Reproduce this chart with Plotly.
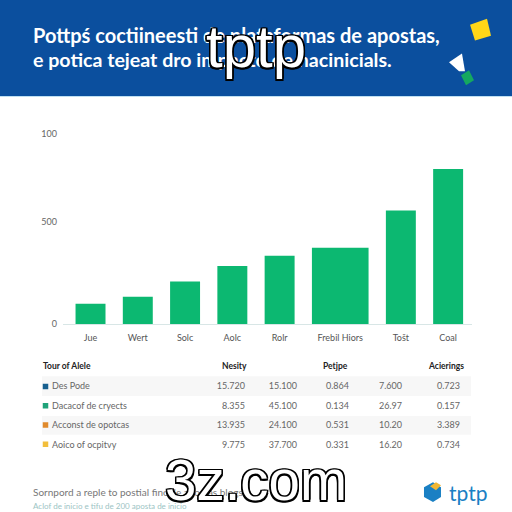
"""Bar chart with a summary table under a blue banner."""
import plotly.graph_objects as go

SIZE = 512
FONT = 'Lato'

# chart data
categories = ['Jue', 'Wert', 'Solc', 'Aolc', 'Rolr', 'Frebil Hiors', 'Tošt', 'Coal']
values = [104, 139, 216, 294, 346, 386, 574, 784]
y_tick_vals = [0, 517, 962]
y_tick_text = ['0', '500', '100']

# table data
table_title = 'Tour of Alele'
col_titles = ['Nesity', 'Petjpe', 'Acierings']
row_names = ['Des Pode', 'Dacacof de cryects', 'Acconst de opotcas', 'Aoico of ocpitvy']
col_nesity = ['15.720', '8.355', '13.935', '9.775']
col_second = ['15.100', '45.100', '24.100', '37.700']
col_petjpe = ['0.864', '0.134', '0.531', '0.331']
col_fourth = ['7.600', '26.97', '10.20', '16.20']
col_acier = ['0.723', '0.157', '3.389', '0.734']
swatch_colors = ['#17608F', '#1FA37A', '#E08A2C', '#F2BE3C']

# bar widths in slots, only the sixth bar is wider
bar_widths = [0.64, 0.64, 0.64, 0.64, 0.64, 1.21, 0.64, 0.64]
BAR_GAP = 0.37


def px(x: float) -> float:
    """Return x pixels as a paper coordinate."""
    return x / SIZE


def py(y: float) -> float:
    """Return y pixels from the top as a paper coordinate."""
    return 1 - y / SIZE


def polygon(points: list, color: str) -> dict:
    """Return a filled paper shape through the given pixel points."""
    path = 'M ' + ' L '.join(f'{px(x):.4f},{py(y):.4f}' for x, y in points) + ' Z'
    return dict(type='path', xref='paper', yref='paper', path=path,
                fillcolor=color, line_width=0, layer='above')


def band(y0: float, y1: float, x0: float, x1: float, color: str) -> dict:
    """Return a filled paper rectangle in pixels."""
    return dict(type='rect', xref='paper', yref='paper', x0=px(x0), x1=px(x1),
                y0=py(y0), y1=py(y1), fillcolor=color, line_width=0, layer='below')


def label(x: float, y: float, text: str, size: float, color: str, family: str = FONT,
          anchor: str = 'left', shadow: str = None) -> dict:
    """Return a paper annotation centred vertically on pixel y."""
    font = dict(size=size, color=color, family=family)
    if shadow:
        font['shadow'] = shadow
    return dict(x=px(x), y=py(y), xref='paper', yref='paper', text=text, showarrow=False,
                xanchor=anchor, yanchor='middle', align=anchor, font=font)


centres = []
edge = 0.0
for w in bar_widths:
    centres.append(edge + w / 2)
    edge += w + BAR_GAP

OUTLINE = ('-1.5px 0 0 #000, 1.5px 0 0 #000, 0 -1.5px 0 #000, 0 1.5px 0 #000, '
           '-1.5px -1.5px 0 #000, 1.5px -1.5px 0 #000, -1.5px 1.5px 0 #000, 1.5px 1.5px 0 #000')

fig = go.Figure()
fig.add_trace(go.Bar(x=centres, y=values, width=bar_widths, marker_color='#0CB871',
                     marker_line_width=0))
fig.add_trace(go.Table(
    domain=dict(x=[px(44), px(468)], y=[py(464), py(359)]),
    columnwidth=[156, 53, 52, 52, 53, 58],
    header=dict(values=['', '', '', '', '', ''], height=19, fill_color='rgba(0,0,0,0)',
                line_width=0),
    cells=dict(values=[row_names, col_nesity, col_second, col_petjpe, col_fourth, col_acier],
               align=['left', 'right', 'right', 'right', 'right', 'right'],
               height=19.5, fill_color='rgba(0,0,0,0)', line_width=0,
               font=dict(family=FONT, size=9, color='#666666')),
))
# row swatches share the row order of the table
fig.add_trace(go.Scatter(x=[0] * len(row_names), y=row_names, mode='markers', xaxis='x2',
                         yaxis='y2', hoverinfo='skip',
                         marker=dict(symbol='square', size=5.5, color=swatch_colors)))

fig.update_layout(
    width=SIZE, height=SIZE, autosize=False, showlegend=False,
    margin=dict(l=0, r=0, t=0, b=0),
    paper_bgcolor='white', plot_bgcolor='white',
    xaxis=dict(domain=[px(63), px(472)], range=[-0.268, 8.47], tickmode='array',
               tickvals=centres, ticktext=categories, showgrid=False, zeroline=False,
               showline=True, linecolor='#D8E6E6', linewidth=1, ticks='', ticklabelstandoff=5,
               tickfont=dict(family=FONT, size=9, color='#555555')),
    yaxis=dict(domain=[py(327.5), py(110)], range=[0, 1087], tickmode='array',
               tickvals=y_tick_vals, ticktext=y_tick_text, showgrid=False, zeroline=False,
               showline=False, ticks='', ticklabelstandoff=5,
               tickfont=dict(family=FONT, size=9, color='#666666')),
    xaxis2=dict(domain=[px(42), px(49)], range=[-1, 1], visible=False, anchor='y2'),
    yaxis2=dict(domain=[py(458.5), py(380.5)], range=[3.5, -0.5], type='category',
                categoryarray=row_names, visible=False, anchor='x2'),
    shapes=[
        band(0, 97, 0, SIZE, '#0B4F9E'),
        band(97, 98, 0, SIZE, '#BFE0F2'),
        band(380, 400, 42, 471, '#F7F7F7'),
        band(420, 439, 42, 471, '#F7F7F7'),
        polygon([(470, 25), (487, 19), (491, 36), (475, 41)], '#FFD617'),
        polygon([(462, 54), (465, 72), (459, 72), (449, 63)], '#FFFFFF'),
        polygon([(461, 76), (469, 71), (474, 81), (466, 86)], '#15A860'),
        polygon([(424, 492), (433, 487), (441, 492), (441, 502), (433, 507), (424, 502)],
                '#1A80C4'),
        polygon([(430, 491), (436, 487), (441, 490), (436, 495)], '#F2B632'),
    ],
    annotations=[
        label(31, 35, '<b>Pottpś coctiineesti de plataformas de apostas,</b>', 20, 'white'),
        label(31, 60, '<b>e potica tejeat dro impacto de hacinicials.</b>', 19.6, 'white'),
        label(41, 370, f'<b>{table_title}</b>', 8.5, '#222222'),
        label(249, 370, f'<b>{col_titles[0]}</b>', 8.5, '#222222', anchor='right'),
        label(350, 370, f'<b>{col_titles[1]}</b>', 8.5, '#222222', anchor='right'),
        label(466, 370, f'<b>{col_titles[2]}</b>', 8.5, '#222222', anchor='right'),
        label(31, 497, 'Sornpord a reple to postial finc de apostas blogs', 10, '#777777'),
        label(31, 511, 'Aclof de inicio e tifu de 200 aposta de inicio', 8, '#9CC4C4'),
        label(447, 497, 'tptp', 21, '#1A80C4'),
        label(256, 47, 'tptp', 60, 'white', 'Liberation Sans', 'center', OUTLINE),
        label(256, 485, '3z.com', 56.5, 'white', 'Liberation Sans', 'center', OUTLINE),
    ],
)

fig.write_html('out.html', config=dict(displayModeBar=False),
               post_script='document.body.style.margin = "0";')
